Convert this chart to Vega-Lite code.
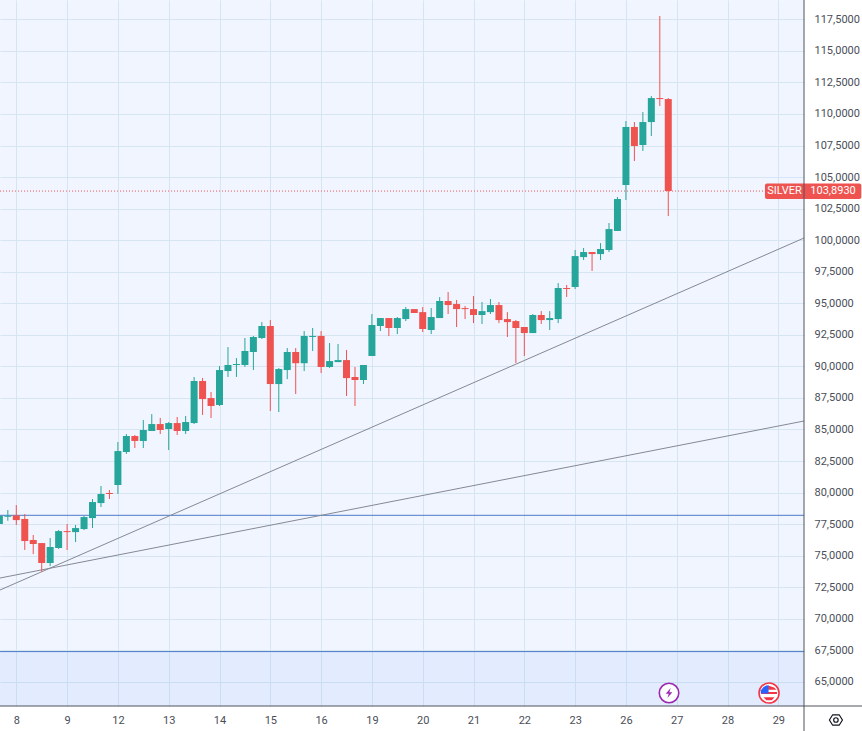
{
"$schema":"https://vega.github.io/schema/vega-lite/v6.json",
"width":804,"height":706,
"autosize":{"type":"none"},
"padding":{"left":0,"top":0,"right":58,"bottom":25},
"background":"#ffffff",
"view":{"fill":"#f0f5ff","stroke":null},
"config":{"font":"Roboto"},
"datasets":{
"candles":[
{"i":-2,"o":77.51,"h":78.17,"l":77.51,"c":78.17},
{"i":-1,"o":78.09,"h":78.62,"l":77.77,"c":78.17},
{"i":0,"o":78.19,"h":79.01,"l":77.43,"c":77.82},
{"i":1,"o":77.91,"h":78.3,"l":75.45,"c":76.16},
{"i":2,"o":76.24,"h":76.64,"l":75.13,"c":75.92},
{"i":3,"o":76.0,"h":76.0,"l":73.73,"c":74.42},
{"i":4,"o":74.42,"h":76.4,"l":74.18,"c":75.69},
{"i":5,"o":75.61,"h":77.03,"l":75.53,"c":76.95},
{"i":6,"o":76.95,"h":77.51,"l":75.45,"c":76.87},
{"i":7,"o":76.87,"h":77.43,"l":76.08,"c":77.19},
{"i":8,"o":77.11,"h":78.14,"l":77.03,"c":78.06},
{"i":9,"o":77.98,"h":79.49,"l":77.19,"c":79.25},
{"i":10,"o":79.17,"h":80.52,"l":78.86,"c":79.89},
{"i":11,"o":79.97,"h":80.2,"l":79.49,"c":79.89},
{"i":12,"o":80.6,"h":84.01,"l":79.89,"c":83.29},
{"i":13,"o":83.21,"h":84.64,"l":83.06,"c":84.48},
{"i":14,"o":84.48,"h":84.56,"l":83.53,"c":84.09},
{"i":15,"o":84.09,"h":85.75,"l":83.53,"c":84.96},
{"i":16,"o":84.88,"h":86.22,"l":84.88,"c":85.43},
{"i":17,"o":85.43,"h":85.91,"l":84.64,"c":84.96},
{"i":18,"o":85.04,"h":85.59,"l":83.37,"c":85.51},
{"i":19,"o":85.51,"h":85.99,"l":84.56,"c":84.88},
{"i":20,"o":84.88,"h":86.07,"l":84.64,"c":85.59},
{"i":21,"o":85.51,"h":89.16,"l":85.43,"c":88.84},
{"i":22,"o":88.84,"h":89.08,"l":86.15,"c":87.41},
{"i":23,"o":87.49,"h":87.97,"l":85.91,"c":86.86},
{"i":24,"o":86.94,"h":90.03,"l":86.86,"c":89.71},
{"i":25,"o":89.63,"h":91.53,"l":89.16,"c":90.11},
{"i":26,"o":90.11,"h":90.66,"l":89.16,"c":90.19},
{"i":27,"o":90.11,"h":92.25,"l":89.95,"c":91.22},
{"i":28,"o":91.14,"h":92.41,"l":89.71,"c":92.33},
{"i":29,"o":92.25,"h":93.51,"l":92.17,"c":93.2},
{"i":30,"o":93.2,"h":93.67,"l":86.46,"c":88.6},
{"i":31,"o":88.6,"h":89.87,"l":86.38,"c":89.79},
{"i":32,"o":89.71,"h":91.45,"l":88.99,"c":91.14},
{"i":33,"o":91.14,"h":91.45,"l":87.81,"c":90.25},
{"i":34,"o":90.25,"h":92.8,"l":89.63,"c":92.41},
{"i":35,"o":92.33,"h":93.04,"l":91.22,"c":92.41},
{"i":36,"o":92.41,"h":92.8,"l":89.47,"c":89.95},
{"i":37,"o":89.95,"h":91.85,"l":89.87,"c":90.42},
{"i":38,"o":90.34,"h":91.77,"l":90.34,"c":90.5},
{"i":39,"o":90.5,"h":91.3,"l":87.65,"c":89.07},
{"i":40,"o":89.16,"h":89.95,"l":86.86,"c":88.92},
{"i":41,"o":88.92,"h":90.11,"l":88.6,"c":90.11},
{"i":42,"o":90.82,"h":94.15,"l":90.82,"c":93.28},
{"i":43,"o":93.2,"h":93.83,"l":92.8,"c":93.83},
{"i":44,"o":93.83,"h":93.83,"l":92.4,"c":93.04},
{"i":45,"o":93.04,"h":93.91,"l":92.56,"c":93.83},
{"i":46,"o":93.75,"h":94.7,"l":93.59,"c":94.54},
{"i":47,"o":94.54,"h":94.54,"l":94.23,"c":94.23},
{"i":48,"o":94.3,"h":94.7,"l":92.72,"c":92.96},
{"i":49,"o":92.88,"h":94.62,"l":92.56,"c":93.91},
{"i":50,"o":93.83,"h":95.49,"l":93.83,"c":95.18},
{"i":51,"o":95.18,"h":95.89,"l":94.15,"c":94.86},
{"i":52,"o":94.94,"h":95.26,"l":93.12,"c":94.54},
{"i":53,"o":94.62,"h":94.78,"l":93.75,"c":94.54},
{"i":54,"o":94.54,"h":95.57,"l":93.43,"c":94.07},
{"i":55,"o":94.07,"h":95.1,"l":93.36,"c":94.38},
{"i":56,"o":94.3,"h":95.34,"l":94.15,"c":94.86},
{"i":57,"o":94.86,"h":95.1,"l":93.43,"c":93.67},
{"i":58,"o":93.75,"h":94.3,"l":92.33,"c":93.51},
{"i":59,"o":93.59,"h":93.67,"l":90.27,"c":93.04},
{"i":60,"o":93.12,"h":93.12,"l":90.82,"c":92.64},
{"i":61,"o":92.64,"h":94.15,"l":92.64,"c":94.07},
{"i":62,"o":94.07,"h":94.38,"l":93.36,"c":93.67},
{"i":63,"o":93.67,"h":94.38,"l":92.88,"c":93.83},
{"i":64,"o":93.75,"h":96.6,"l":93.43,"c":96.21},
{"i":65,"o":96.21,"h":96.45,"l":95.5,"c":96.13},
{"i":66,"o":96.29,"h":99.22,"l":96.13,"c":98.74},
{"i":67,"o":98.66,"h":99.38,"l":98.43,"c":99.06},
{"i":68,"o":99.06,"h":99.06,"l":97.56,"c":98.9},
{"i":69,"o":98.9,"h":99.77,"l":98.43,"c":99.3},
{"i":70,"o":99.22,"h":101.36,"l":99.06,"c":100.88},
{"i":71,"o":100.73,"h":103.42,"l":100.73,"c":103.26},
{"i":72,"o":104.37,"h":109.44,"l":103.18,"c":108.97},
{"i":73,"o":108.97,"h":109.36,"l":106.27,"c":107.46},
{"i":74,"o":107.54,"h":110.15,"l":107.07,"c":109.36},
{"i":75,"o":109.36,"h":111.42,"l":108.25,"c":111.26},
{"i":76,"o":111.26,"h":117.76,"l":110.63,"c":111.18},
{"i":77,"o":111.18,"h":111.26,"l":101.91,"c":103.893}
],
"trends":[
{"name":"a","x":-1.925,"p":72.28},{"name":"a","x":93.03,"p":100.17},
{"name":"b","x":-1.925,"p":73.23},{"name":"b","x":93.03,"p":85.67}
]
},
"layer":[
{"data":{"values":[{"x":-1.925,"x2":93.03,"p":63.09,"p2":67.4}]},
 "mark":{"type":"rect","fill":"#2962ff","fillOpacity":0.06},
 "encoding":{
  "x":{"field":"x","type":"quantitative","scale":{"domain":[-1.925,93.03],"nice":false,"zero":false,"padding":0},
   "axis":{"orient":"bottom","values":[0,6,12,18,24,30,36,42,48,54,60,66,72,78,84,90],"tickCount":40,"title":null,"grid":true,"gridColor":"#d6e5f2","gridWidth":1,"ticks":false,"domain":false,"labelPadding":8,"labelFontSize":11,"labelFont":"Roboto","labelColor":"#4a4e58","labelFlush":false,"labelOverlap":false,
    "labelExpr":"['8','9','12','13','14','15','16','19','20','21','22','23','26','27','28','29'][datum.value/6]"}},
  "x2":{"field":"x2"},
  "y":{"field":"p","type":"quantitative","scale":{"domain":[63.09,119.03],"nice":false,"zero":false,"padding":0},
   "axis":{"orient":"right","values":[65,67.5,70,72.5,75,77.5,80,82.5,85,87.5,90,92.5,95,97.5,100,102.5,105,107.5,110,112.5,115,117.5],"tickCount":40,"title":null,"grid":true,"gridColor":"#d6e5f2","gridWidth":1,"ticks":false,"domain":false,"labelPadding":10,"labelFontSize":11,"labelFont":"Roboto","labelColor":"#4a4e58","labelOverlap":false,
    "labelExpr":"replace(format(datum.value,'.4f'),'.',',')"}},
  "y2":{"field":"p2"}
 }},
{"data":{"values":[{"x":-1.925,"x2":93.03,"p":67.4},{"x":-1.925,"x2":93.03,"p":78.2}]},
 "mark":{"type":"rule","color":"#4a7ac8","strokeWidth":1},
 "encoding":{"x":{"field":"x","type":"quantitative"},"x2":{"field":"x2"},"y":{"field":"p","type":"quantitative"}}},
{"data":{"name":"trends"},
 "mark":{"type":"line","color":"#868993","strokeWidth":1},
 "encoding":{"x":{"field":"x","type":"quantitative"},"y":{"field":"p","type":"quantitative"},"detail":{"field":"name"}}},
{"data":{"values":[{"x":-1.925,"x2":93.03,"p":103.893}]},
 "mark":{"type":"rule","color":"#ef5350","strokeWidth":1,"strokeDash":[1,2]},
 "encoding":{"x":{"field":"x","type":"quantitative"},"x2":{"field":"x2"},"y":{"field":"p","type":"quantitative"}}},
{"data":{"name":"candles"},
 "transform":[{"filter":"datum.c>=datum.o"}],
 "mark":{"type":"rule","color":"#26a69a","strokeWidth":1,"clip":true},
 "encoding":{"x":{"field":"i","type":"quantitative"},"y":{"field":"l","type":"quantitative"},"y2":{"field":"h"}}},
{"data":{"name":"candles"},
 "transform":[{"filter":"datum.c<datum.o"}],
 "mark":{"type":"rule","color":"#ef5350","strokeWidth":1,"clip":true},
 "encoding":{"x":{"field":"i","type":"quantitative"},"y":{"field":"l","type":"quantitative"},"y2":{"field":"h"}}},
{"data":{"name":"candles"},
 "transform":[{"filter":"datum.c>=datum.o"}],
 "mark":{"type":"bar","color":"#26a69a","size":7,"clip":true},
 "encoding":{"x":{"field":"i","type":"quantitative"},"y":{"field":"o","type":"quantitative"},"y2":{"field":"c"}}},
{"data":{"name":"candles"},
 "transform":[{"filter":"datum.c<datum.o"}],
 "mark":{"type":"bar","color":"#ef5350","size":7,"clip":true},
 "encoding":{"x":{"field":"i","type":"quantitative"},"y":{"field":"o","type":"quantitative"},"y2":{"field":"c"}}},
{"data":{"values":[{"x":88.42,"x2":99.8,"p":104.5,"p2":103.26}]},
 "mark":{"type":"rect","fill":"#ef5350","cornerRadius":2,"clip":false},
 "encoding":{"x":{"field":"x","type":"quantitative"},"x2":{"field":"x2"},"y":{"field":"p","type":"quantitative"},"y2":{"field":"p2"}}},
{"data":{"values":[{"x":93.03,"x2":93.03,"p":119.03,"p2":61.05},{"x":-1.925,"x2":99.9,"p":63.09,"p2":63.09}]},
 "mark":{"type":"rule","color":"#50535e","strokeWidth":1,"clip":false},
 "encoding":{"x":{"field":"x","type":"quantitative"},"x2":{"field":"x2"},"y":{"field":"p","type":"quantitative"},"y2":{"field":"p2"}}},
{"data":{"values":[{"x":90.73,"p":103.893,"t":"SILVER"},{"x":96.46,"p":103.893,"t":"103,8930"}]},
 "mark":{"type":"text","color":"#ffffff","fontSize":11,"font":"Roboto","align":"center","baseline":"middle","clip":false},
 "encoding":{"x":{"field":"x","type":"quantitative"},"y":{"field":"p","type":"quantitative"},"text":{"field":"t"}}},
{"data":{"values":[{"x":77.09,"p":64.12}]},
 "mark":{"type":"point","shape":"circle","filled":false,"size":380,"fill":"#ffffff","fillOpacity":1,"stroke":"#9c27b0","strokeWidth":1.6,"opacity":1,"clip":false},
 "encoding":{"x":{"field":"x","type":"quantitative"},"y":{"field":"p","type":"quantitative"}}},
{"data":{"values":[{"x":77.09,"p":64.12}]},
 "mark":{"type":"point","shape":"M0.3,-0.9 L-0.6,0.15 L-0.05,0.15 L-0.3,0.9 L0.6,-0.15 L0.05,-0.15 Z","filled":true,"fill":"#9c27b0","size":120,"opacity":1,"clip":false},
 "encoding":{"x":{"field":"x","type":"quantitative"},"y":{"field":"p","type":"quantitative"}}},
{"data":{"values":[{"x":88.9,"p":64.12}]},
 "mark":{"type":"point","shape":"circle","filled":false,"size":400,"fill":"#ffffff","fillOpacity":1,"stroke":"#f23645","strokeWidth":1.6,"opacity":1,"clip":false},
 "encoding":{"x":{"field":"x","type":"quantitative"},"y":{"field":"p","type":"quantitative"}}},
{"data":{"values":[{"x":88.9,"p":64.12}]},
 "mark":{"type":"point","shape":"M-0.1,-0.82 L0.55,-0.6 L0.8,-0.35 L-0.1,-0.35 Z M-0.1,-0.1 L0.88,-0.1 L0.85,0.1 L-0.85,0.1 L-0.88,-0.1 Z M-0.6,0.45 L0.6,0.45 L0.3,0.78 L-0.3,0.78 Z","filled":true,"fill":"#f23645","size":340,"opacity":1,"clip":false},
 "encoding":{"x":{"field":"x","type":"quantitative"},"y":{"field":"p","type":"quantitative"}}},
{"data":{"values":[{"x":88.9,"p":64.12}]},
 "mark":{"type":"point","shape":"M-0.05,-0.85 L-0.05,0.05 L-0.9,0.05 L-0.88,-0.3 L-0.6,-0.65 L-0.3,-0.82 Z","filled":true,"fill":"#2962ff","size":340,"opacity":1,"clip":false},
 "encoding":{"x":{"field":"x","type":"quantitative"},"y":{"field":"p","type":"quantitative"}}},
{"data":{"values":[{"x":96.8,"p":61.98}]},
 "mark":{"type":"point","shape":"M-1,0 L-0.5,-0.8 L0.5,-0.8 L1,0 L0.5,0.8 L-0.5,0.8 Z","filled":false,"size":170,"stroke":"#131722","strokeWidth":1.2,"opacity":1,"clip":false},
 "encoding":{"x":{"field":"x","type":"quantitative"},"y":{"field":"p","type":"quantitative"}}},
{"data":{"values":[{"x":96.8,"p":61.98}]},
 "mark":{"type":"point","shape":"circle","filled":false,"size":20,"stroke":"#131722","strokeWidth":1.2,"opacity":1,"clip":false},
 "encoding":{"x":{"field":"x","type":"quantitative"},"y":{"field":"p","type":"quantitative"}}}
]
}
